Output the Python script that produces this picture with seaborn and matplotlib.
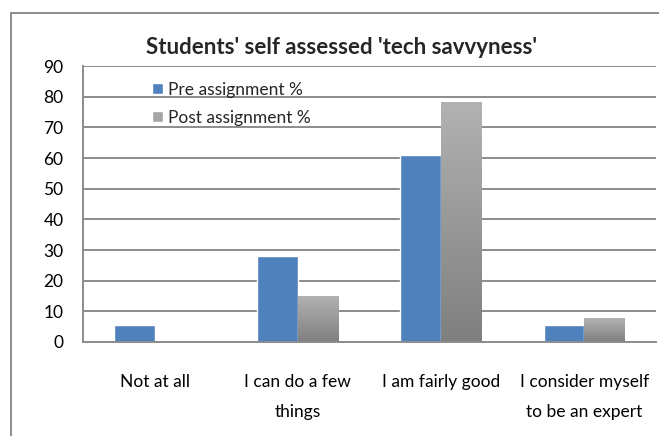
import numpy as np
import pandas as pd
import matplotlib
matplotlib.use('Agg')
import matplotlib.pyplot as plt
import seaborn as sns
from matplotlib.patches import Rectangle, Patch

# Data
categories = ["Not at all", "I can do a few\nthings", "I am fairly good", "I consider myself\nto be an expert"]
pre_values = [5.6, 28, 61, 5.6]
post_values = [0, 15, 78, 7.6]
series_names = ["Pre assignment %", "Post assignment %"]
y_ticks = [0, 10, 20, 30, 40, 50, 60, 70, 80, 90]

sns.set_theme(style="white")
plt.rcParams['font.family'] = ['Lato', 'DejaVu Sans']

df = pd.DataFrame({
    'Category': categories * 2,
    'Value': pre_values + post_values,
    'Series': [series_names[0]] * len(categories) + [series_names[1]] * len(categories),
})

fig = plt.figure(figsize=(6.59, 4.36), dpi=100)
ax = fig.add_axes([0.126, 0.2156, 0.8695, 0.633])

blue = '#4F81BD'
grey = '#A5A5A5'
sns.barplot(data=df, x='Category', y='Value', hue='Series', palette=[blue, grey],
            width=0.57, gap=0, ax=ax, legend=False, saturation=1)

# gradient fill for the post-assignment bars
grad = np.linspace(0, 1, 256).reshape(-1, 1)
cmap = matplotlib.colors.LinearSegmentedColormap.from_list('g', ['#B2B2B2', '#7F7F7F'])
for bar in ax.containers[1]:
    x0, y0 = bar.get_x(), bar.get_y()
    w, h = bar.get_width(), bar.get_height()
    if h <= 0:
        continue
    bar.set_facecolor('none')
    bar.set_edgecolor('none')
    ax.imshow(grad, extent=(x0, x0 + w, y0, y0 + h), aspect='auto', cmap=cmap,
              origin='upper', zorder=bar.get_zorder(), interpolation='bicubic')

ax.set_xlim(-0.5, len(categories) - 0.5)
ax.set_ylim(0, 90)
ax.set_yticks(y_ticks)
ax.set_xlabel('')
ax.set_ylabel('')
ax.yaxis.grid(True, color='#8C8C8C', linewidth=1.4)
ax.set_axisbelow(True)
for s in ['top', 'right']:
    ax.spines[s].set_visible(False)
for s in ['left', 'bottom']:
    ax.spines[s].set_color('#8C8C8C')
    ax.spines[s].set_linewidth(1.4)
ax.tick_params(axis='both', length=0, labelsize=12.5, colors='black')
ax.tick_params(axis='x', pad=23)
ax.tick_params(axis='y', pad=14)
for lab in ax.get_xticklabels():
    lab.set_linespacing(2.1)

fig.text(341 / 659, 1 - 47 / 436, "Students' self assessed 'tech savvyness'", fontsize=16,
         fontweight='bold', ha='center', va='center')

handles = [Patch(facecolor=blue), Patch(facecolor=grey)]
ax.legend(handles, series_names, loc='upper left', bbox_to_anchor=(0.093, 1.0), frameon=False,
          fontsize=12.5, handlelength=0.65, handleheight=0.65, handletextpad=0.3,
          labelspacing=0.7)

# outer chart border
fig.patches.append(Rectangle((11 / 659, -0.05), 1.1, 1.05 - 13 / 436, transform=fig.transFigure,
                             fill=False, edgecolor='#8C8C8C', linewidth=1.4))

fig.savefig('out.png', dpi=100)
